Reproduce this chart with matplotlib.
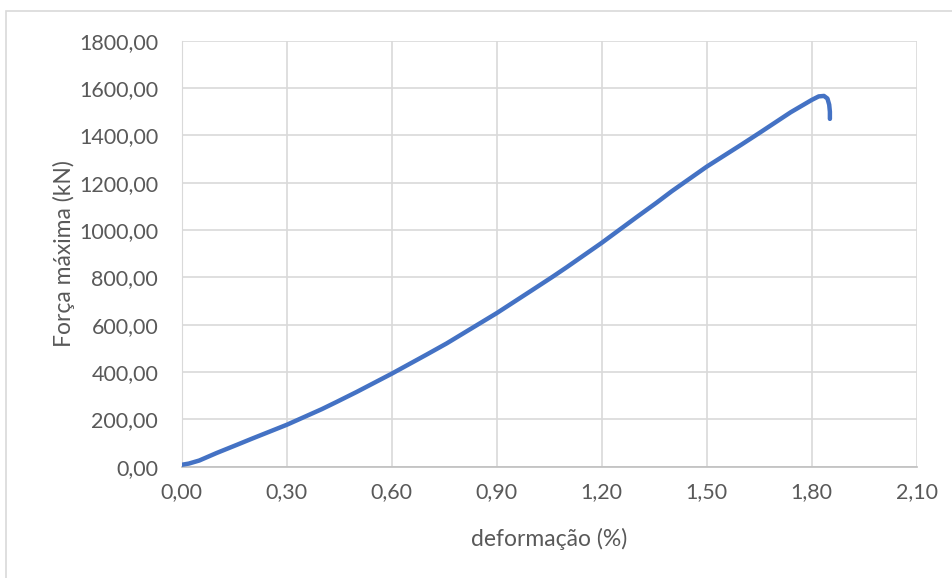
import matplotlib.pyplot as plt
from matplotlib.patches import Rectangle
from matplotlib.ticker import FuncFormatter

# deformação (%) x força máxima (kN)
deformacao = [0.00, 0.02, 0.05, 0.10, 0.157, 0.20, 0.30, 0.40, 0.443, 0.50,
              0.60, 0.70, 0.757, 0.90, 1.00, 1.06, 1.10, 1.20, 1.30, 1.357,
              1.40, 1.50, 1.60, 1.65, 1.74, 1.80, 1.82, 1.835, 1.845, 1.850,
              1.852, 1.852]
forca = [8, 13, 26, 58, 92, 118, 177, 243, 274, 316,
         393, 474, 521, 649, 745, 803, 843, 946, 1055, 1116,
         1164, 1268, 1362, 1410, 1498, 1550, 1565, 1567, 1556, 1530,
         1500, 1470]

xticks = [0.0, 0.3, 0.6, 0.9, 1.2, 1.5, 1.8, 2.1]
yticks = list(range(0, 2000, 200))

txt = '#595959'
plt.rcParams['font.family'] = ['Lato', 'DejaVu Sans']

fig = plt.figure(figsize=(9.53, 5.78), dpi=100)
ax = fig.add_axes([0.1907, 0.1926, 0.7712, 0.7368])

# moldura do gráfico
fig.patches.append(Rectangle((6 / 953, -0.1), 1.2, 1 - 11 / 578 + 0.1,
                             transform=fig.transFigure, fill=False,
                             edgecolor='#d9d9d9', lw=1.2))

ax.plot(deformacao, forca, color='#4472c4', lw=3.2,
        solid_capstyle='round', solid_joinstyle='round', zorder=3)

ax.set_xlim(0, 2.1)
ax.set_ylim(0, 1800)
ax.set_xticks(xticks)
ax.set_yticks(yticks)
fmt = FuncFormatter(lambda v, p: f'{v:.2f}'.replace('.', ','))
ax.xaxis.set_major_formatter(fmt)
ax.yaxis.set_major_formatter(fmt)
ax.tick_params(length=0, labelsize=15.5, colors=txt)
ax.tick_params(axis='y', pad=17)
ax.tick_params(axis='x', pad=11)

ax.grid(True, color='#d9d9d9', lw=1.2)
ax.set_axisbelow(True)
for s in ['top', 'right']:
    ax.spines[s].set_visible(False)
ax.spines['left'].set_color('#d9d9d9')
ax.spines['bottom'].set_color('#bfbfbf')
ax.spines['bottom'].set_linewidth(1.2)

ax.set_xlabel('deformação (%)', fontsize=16.5, color=txt, labelpad=19)
ax.set_ylabel('Força máxima (kN)', fontsize=16.5, color=txt, labelpad=3)

fig.savefig('out.png', dpi=100)
